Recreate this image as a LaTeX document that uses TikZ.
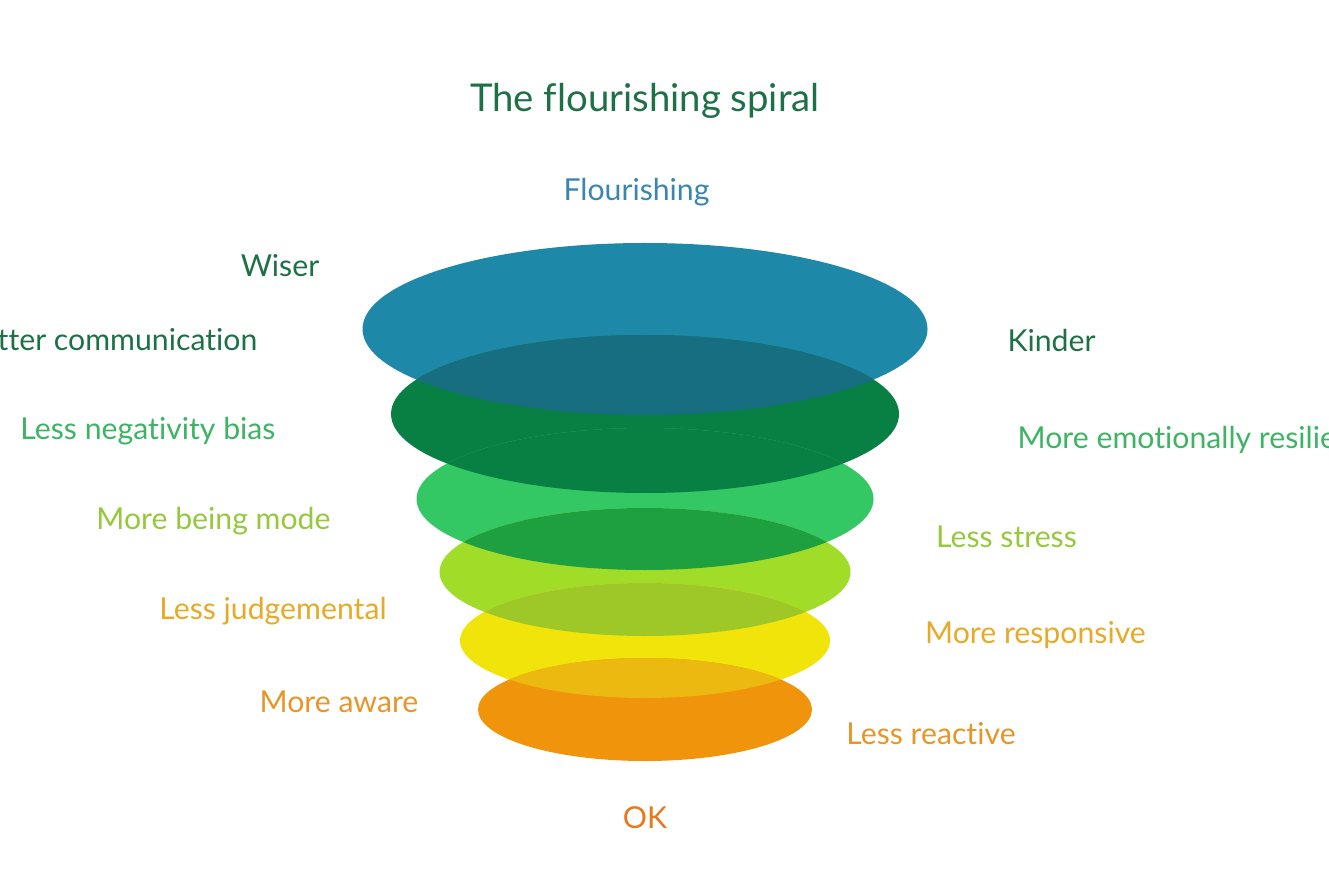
\documentclass[tikz,border=0pt]{standalone}
\usepackage{fontspec}
\setmainfont{Lato}[Ligatures=NoCommon]
\usetikzlibrary{positioning}
\definecolor{spblue}{RGB}{30,136,168}
\definecolor{spdark}{RGB}{8,128,68}
\definecolor{splight}{RGB}{52,200,100}
\definecolor{spygreen}{RGB}{160,220,40}
\definecolor{spyellow}{RGB}{240,228,10}
\definecolor{sporange}{RGB}{240,148,12}
\definecolor{ovblue}{RGB}{22,110,128}
\definecolor{ovlight}{RGB}{30,160,64}
\definecolor{ovygreen}{RGB}{158,200,40}
\definecolor{ovyellow}{RGB}{235,185,15}
\definecolor{txdark}{RGB}{30,112,70}
\definecolor{txblue}{RGB}{58,134,174}
\definecolor{txgreen}{RGB}{60,180,100}
\definecolor{txygreen}{RGB}{150,200,60}
\definecolor{txyellow}{RGB}{230,170,40}
\definecolor{txorange}{RGB}{230,150,40}
\definecolor{txok}{RGB}{230,120,30}
\tikzset{
  ttl/.style={font=\fontsize{10.9}{13}\selectfont, text=txdark},
  lab/.style={font=\fontsize{8.6}{10}\selectfont, inner sep=0pt},
}

\begin{document}
\begin{tikzpicture}
  \useasboundingbox (0,0) rectangle (13.29,8.86);
  \clip (0,0) rectangle (13.29,8.86);
  % discs of the spiral, top to bottom
  \foreach \y/\rx/\ry/\c in {5.57/2.825/0.86/spblue, 4.72/2.54/0.79/spdark,
      3.87/2.285/0.71/splight, 3.14/2.055/0.64/spygreen,
      2.455/1.85/0.575/spyellow, 1.765/1.67/0.515/sporange}
    \fill[\c] (6.45,\y) ellipse [x radius=\rx, y radius=\ry];
  % where two discs overlap
  \foreach \ya/\rxa/\rya/\yb/\rxb/\ryb/\c in {5.57/2.825/0.86/4.72/2.54/0.79/ovblue,
      4.72/2.54/0.79/3.87/2.285/0.71/spdark,
      3.87/2.285/0.71/3.14/2.055/0.64/ovlight,
      3.14/2.055/0.64/2.455/1.85/0.575/ovygreen,
      2.455/1.85/0.575/1.765/1.67/0.515/ovyellow} {
    \begin{scope}
      \clip (6.45,\ya) ellipse [x radius=\rxa, y radius=\rya];
      \fill[\c] (6.45,\yb) ellipse [x radius=\rxb, y radius=\ryb];
    \end{scope}
  }
  \node[ttl] (title) at (6.45,7.85) {The flourishing spiral};
  \node[lab, text=txblue] (top) at (6.365,6.94) {Flourishing};
  \node[lab, text=txdark] (wiser) at (2.80,6.20) {Wiser};
  \node[lab, text=txdark, anchor=east] (comm) at (2.58,5.46) {Better communication};
  \node[lab, text=txdark] (kinder) at (10.515,5.46) {Kinder};
  \node[lab, text=txgreen] (neg) at (1.48,4.55) {Less negativity bias};
  \node[lab, text=txgreen, anchor=west] (resil) at (10.17,4.46) {More emotionally resilient};
  \node[lab, text=txygreen] (being) at (2.135,3.65) {More being mode};
  \node[lab, text=txygreen] (stress) at (10.065,3.49) {Less stress};
  \node[lab, text=txyellow] (judge) at (2.73,2.75) {Less judgemental};
  \node[lab, text=txyellow] (resp) at (10.355,2.51) {More responsive};
  \node[lab, text=txorange] (aware) at (3.39,1.84) {More aware};
  \node[lab, text=txorange] (react) at (9.31,1.52) {Less reactive};
  \node[lab, text=txok] (ok) at (6.45,0.68) {OK};
\end{tikzpicture}
\end{document}
